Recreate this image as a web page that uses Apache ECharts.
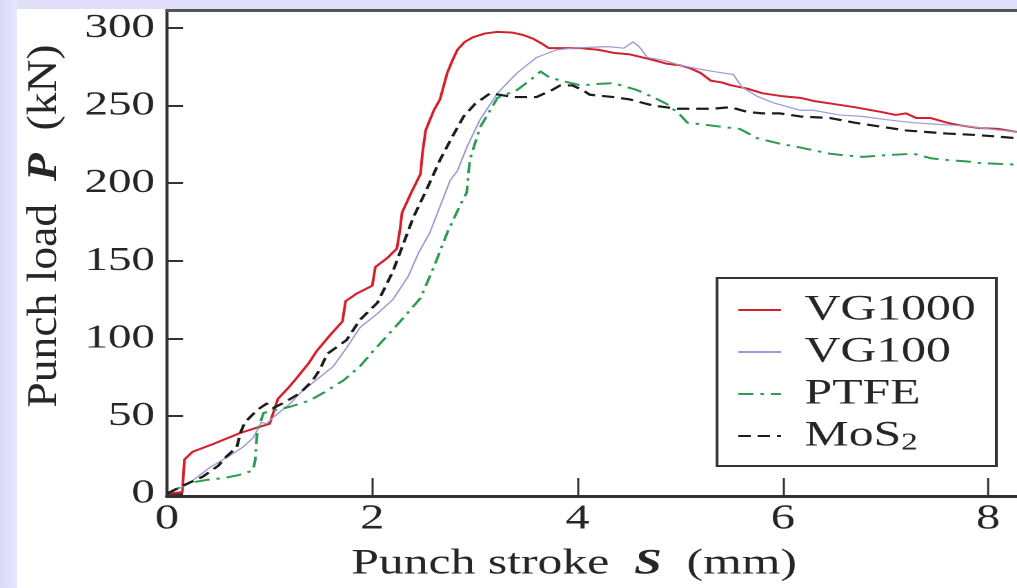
<!DOCTYPE html>
<html>
<head>
<meta charset="utf-8">
<script src="https://cdn.jsdelivr.net/npm/echarts@6/dist/echarts.min.js"></script>
<style>
  html, body { margin: 0; padding: 0; background: #ffffff; width: 1017px; height: 588px; overflow: hidden; }
  .band-top { position: absolute; left: 0; top: 0; width: 1017px; height: 9px; background: #dfdffa; }
  .band-left { position: absolute; left: 0; top: 0; width: 17px; height: 588px; background: linear-gradient(to right, #dadaf8, #e6e6fb); }
  /* the figure is drawn at 737px wide and widened to 1017px */
  #chart { position: absolute; left: 0; top: 0; width: 737px; height: 588px; transform: scaleX(1.38); transform-origin: 0 0; }
</style>
</head>
<body>
<div class="band-top"></div>
<div class="band-left"></div>
<div id="chart"></div>
<script>
// Punch load P (kN) against punch stroke S (mm) for four lubricants
const seriesNames = ['VG1000', 'VG100', 'PTFE', 'MoS2'];

const vg1000 = [[0,0],[0.15,1],[0.16,12],[0.17,22],[0.25,27],[0.45,32],[0.71,39],[0.85,42],[1.0,45],[1.05,55],[1.08,61],[1.18,68],[1.27,75],[1.38,84],[1.46,92],[1.6,103],[1.71,111],[1.74,124],[1.85,129],[2.0,134],[2.03,146],[2.15,152],[2.24,158],[2.27,170],[2.29,181],[2.38,194],[2.47,206],[2.49,220],[2.52,234],[2.6,247],[2.66,254],[2.73,271],[2.78,279],[2.83,286],[2.9,291],[2.98,294],[3.1,296.5],[3.22,297.5],[3.37,297],[3.47,295.5],[3.57,293],[3.65,290],[3.72,287],[3.85,287],[4.03,287],[4.2,286],[4.35,284],[4.51,283],[4.7,280],[4.87,277],[5.0,276],[5.1,274],[5.2,271],[5.3,266],[5.4,265],[5.5,263],[5.65,261],[5.8,258],[6.0,256],[6.17,255],[6.3,253],[6.5,251],[6.7,249],[6.95,246],[7.1,244],[7.2,245],[7.3,242],[7.44,242],[7.6,239],[7.75,237],[7.92,235.5],[8.1,235],[8.28,233]];

const vg100 = [[0,0],[0.2,6],[0.42,17],[0.6,24],[0.74,30],[0.84,36],[0.88,41],[0.92,46],[0.97,45],[1.05,50],[1.2,58],[1.3,65],[1.45,73],[1.62,82],[1.75,94],[1.88,107],[2.05,116],[2.2,125],[2.35,140],[2.45,155],[2.56,168],[2.66,185],[2.76,202],[2.83,208],[2.92,223],[3.05,241],[3.22,258],[3.41,271],[3.6,281],[3.8,286],[3.95,287],[4.1,287.5],[4.3,288],[4.45,287],[4.54,291],[4.6,288],[4.68,281],[4.85,279],[5.0,276],[5.15,274],[5.32,272],[5.52,270],[5.6,262],[5.75,256],[5.9,252],[6.17,247],[6.3,247],[6.55,244],[6.78,243],[7.0,241],[7.27,239],[7.5,238],[7.76,237],[8.0,235],[8.28,233]];

const ptfe = [[0,0],[0.22,7],[0.4,9],[0.55,10],[0.7,12],[0.84,15],[0.86,22],[0.87,32],[0.88,40],[0.94,52],[1.07,54],[1.2,56],[1.39,60],[1.55,66],[1.72,73],[1.88,82],[2.01,92],[2.15,102],[2.3,113],[2.47,126],[2.6,146],[2.73,168],[2.85,185],[2.92,194],[2.95,215],[3.05,236],[3.22,255],[3.41,260],[3.55,267],[3.64,272],[3.73,268],[3.85,266],[4.03,263],[4.2,264],[4.35,264.5],[4.58,260],[4.75,255],[4.87,251],[5.0,244],[5.07,239],[5.2,238],[5.32,237],[5.45,236],[5.58,235],[5.75,229],[5.97,225.5],[6.17,223],[6.46,219],[6.6,218],[6.78,217],[7.0,218],[7.27,219],[7.45,216],[7.6,215],[7.8,214],[7.92,213],[8.1,212.5],[8.28,212]];

const mos2 = [[0,0],[0.15,5],[0.35,11],[0.5,18],[0.58,24],[0.68,30],[0.72,40],[0.76,46],[0.88,54],[0.97,58],[1.03,55],[1.15,59],[1.3,65],[1.42,73],[1.49,80],[1.56,90],[1.75,99],[1.88,112],[2.05,123],[2.2,143],[2.4,178],[2.53,196],[2.66,215],[2.78,230],[2.89,243],[3.0,251],[3.15,258],[3.37,255.5],[3.6,255.5],[3.75,260],[3.83,263],[3.95,263],[4.05,260],[4.12,257],[4.35,255.5],[4.51,254],[4.68,251],[4.74,250],[4.97,248],[5.15,248],[5.32,248],[5.49,249],[5.65,246],[5.8,245],[5.97,245],[6.17,243],[6.46,242],[6.7,239],[6.95,236.5],[7.2,234],[7.4,233],[7.6,232],[7.9,231],[8.1,230],[8.28,229]];

const xTicks = [0, 2, 4, 6, 8];
const yTicks = [0, 50, 100, 150, 200, 250, 300];

const SERIF = '"Liberation Serif", "DejaVu Serif", serif';
const INK = '#262626';

const chart = echarts.init(document.getElementById('chart'), null, { renderer: 'canvas', devicePixelRatio: 2 });

function lineSeries(name, data, color, width, dash) {
  return {
    name: name,
    type: 'line',
    data: data,
    symbol: 'none',
    showSymbol: false,
    smooth: false,
    z: 3,
    lineStyle: { color: color, width: width, type: dash || 'solid', cap: 'butt', join: 'round' },
    itemStyle: { color: color }
  };
}

chart.setOption({
  animation: false,
  backgroundColor: 'transparent',
  grid: { left: 121, right: 0, top: 10, bottom: 92, show: false, containLabel: false },
  xAxis: [
    {
      type: 'value', min: 0, max: 8.282, position: 'bottom',
      axisLine: { show: true, onZero: false, lineStyle: { color: '#333', width: 3 } },
      axisTick: { show: true, inside: true, length: 18, customValues: xTicks, lineStyle: { color: '#333', width: 1.5 } },
      axisLabel: { show: true, customValues: xTicks, margin: 6, fontFamily: SERIF, fontSize: 35, color: INK },
      splitLine: { show: false },
      name: '{n|Punch stroke  }{b|S}{n|  (mm)}',
      nameLocation: 'middle', nameGap: 50,
      nameTextStyle: {
        padding: [0, 26, 0, 0],
        rich: {
          n: { fontFamily: SERIF, fontSize: 36, color: INK },
          b: { fontFamily: SERIF, fontSize: 36, fontWeight: 'bold', fontStyle: 'italic', color: INK }
        }
      }
    },
    {
      type: 'value', min: 0, max: 8.282, position: 'top',
      axisLine: { show: true, onZero: false, lineStyle: { color: '#555', width: 3 } },
      axisTick: { show: false }, axisLabel: { show: false }, splitLine: { show: false }
    }
  ],
  yAxis: {
    type: 'value', min: -1.5, max: 311.6,
    axisLine: { show: true, onZero: false, lineStyle: { color: '#333', width: 2.3 } },
    axisTick: { show: true, inside: true, length: 11.6, customValues: yTicks, lineStyle: { color: '#333', width: 2 } },
    axisLabel: { show: true, customValues: yTicks, margin: 8.7, fontFamily: SERIF, fontSize: 34, color: INK },
    splitLine: { show: false }
  },
  legend: {
    orient: 'vertical',
    left: 519.6, top: 278,
    padding: [11, 15, 9, 14.4],
    itemGap: 0,
    itemWidth: 31, itemHeight: 2,
    borderColor: '#333', borderWidth: 2, backgroundColor: '#ffffff',
    itemStyle: { color: 'rgba(0,0,0,0)', borderWidth: 0, opacity: 0 },
    data: seriesNames,
    textStyle: {
      fontFamily: SERIF, fontSize: 36, color: INK, lineHeight: 42, padding: [0, 0, 0, 12],
      rich: {
        sub: { fontFamily: SERIF, fontSize: 24, color: INK, lineHeight: 42, padding: [14, 0, 0, 0] }
      }
    },
    formatter: function (name) { return name === 'MoS2' ? 'MoS{sub|2}' : name; }
  },
  graphic: [
    {
      type: 'text',
      x: 32.6, y: 226,
      rotation: Math.PI / 2,
      scaleX: 1.34, scaleY: 0.9,
      silent: true,
      style: {
        text: '{n|Punch load  }{b|P}{n|  (kN)}',
        align: 'center', verticalAlign: 'middle',
        rich: {
          n: { fontFamily: SERIF, fontSize: 34, fill: INK },
          b: { fontFamily: SERIF, fontSize: 34, fontWeight: 'bold', fontStyle: 'italic', fill: INK }
        }
      }
    }
  ],
  series: [
    lineSeries('VG1000', vg1000, '#d3202c', 2, 'solid'),
    lineSeries('VG100', vg100, '#9c9ad2', 1.2, 'solid'),
    lineSeries('PTFE', ptfe, '#2f9a52', 2, [11, 5, 2.5, 5]),
    lineSeries('MoS2', mos2, '#1c1c1c', 2.2, [9, 5])
  ]
});
</script>
</body>
</html>
